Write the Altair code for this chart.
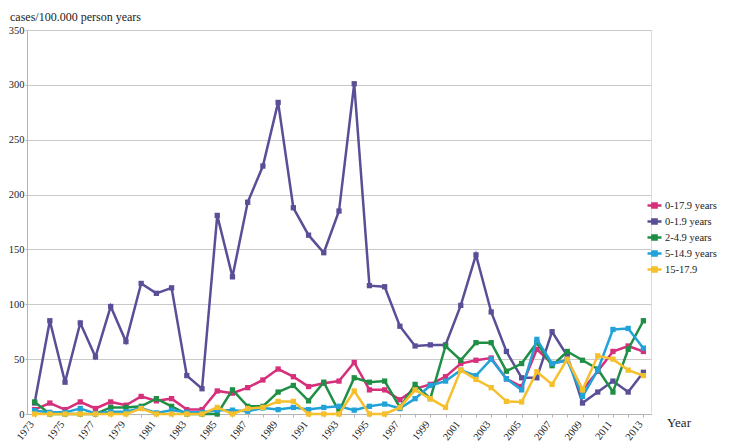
import altair as alt
import pandas as pd

years = list(range(1973, 2014))
series_names = ["0-17.9 years", "0-1.9 years", "2-4.9 years", "5-14.9 years", "15-17.9"]
series_colors = ["#d62f7c", "#5a4e96", "#1f8f45", "#21a3d9", "#f5c02c"]

v_0_17 = [4, 10, 4, 11, 5, 11, 8, 16, 12, 14, 4, 4, 21, 19, 24, 31, 41, 34, 25, 28, 30, 47,
          22, 22, 13, 23, 27, 34, 46, 49, 51, 32, 25, 59, 46, 49, 22, 39, 57, 62, 57]
v_0_1 = [10, 85, 29, 83, 52, 98, 66, 119, 110, 115, 35, 23, 181, 125, 193, 226, 284, 188, 163, 147, 185, 301,
         117, 116, 80, 62, 63, 63, 99, 145, 93, 57, 33, 33, 75, 53, 10, 20, 30, 20, 38]
v_2_4 = [11, 0, 0, 0, 0, 6, 6, 7, 14, 7, 0, 0, 0, 22, 7, 7, 20, 26, 12, 29, 2, 33,
         29, 30, 6, 27, 14, 62, 49, 65, 65, 39, 46, 65, 44, 57, 49, 41, 20, 59, 85]
v_5_14 = [3, 1.5, 1.5, 5, 0.5, 2, 2, 5.5, 1, 3.5, 1.5, 1.5, 3.5, 3.5, 2.5, 5.5, 4, 6, 4, 6, 7, 3.5,
          7, 9, 5, 14, 26, 30, 40, 35, 50, 32, 22, 68, 46, 49, 16, 40, 77, 78, 60]
v_15_17 = [0, 0, 0, 0, 0, 0, 0, 5, 0, 0, 0, 0, 6, 0, 5, 6, 11.5, 11.5, 0, 0, 0, 21,
           0, 0, 6, 22, 14, 6, 40, 31.5, 24, 11.5, 11, 38.5, 27, 50, 22, 53, 50, 40, 35]

y_ticks = [0, 50, 100, 150, 200, 250, 300, 350]
y_title = "cases/100.000 person years"
x_title = "Year"

all_values = [v_0_17, v_0_1, v_2_4, v_5_14, v_15_17]
rows = []
for name, vals in zip(series_names, all_values):
    for yr, v in zip(years, vals):
        rows.append({"year": yr, "value": v, "series": name})
df = pd.DataFrame(rows)

FONT = "Liberation Serif, Times New Roman, DejaVu Serif, serif"

x_enc = alt.X(
    "year:O",
    scale=alt.Scale(type="point", padding=0.5, domain=years),
    axis=alt.Axis(
        values=years,
        labelExpr="(datum.value - 1973) % 2 == 0 ? datum.label : ''",
        labelAngle=-52, labelAlign="right", labelBaseline="middle",
        labelOffset=-3, labelPadding=5,
        title=None, grid=False,
        domainColor="#b5b5b5", tickColor="#b5b5b5", tickSize=3,
        labelFont=FONT, labelFontSize=10.5, labelColor="#222",
    ),
)
y_enc = alt.Y(
    "value:Q",
    scale=alt.Scale(domain=[0, 350], nice=False),
    axis=alt.Axis(
        values=y_ticks, title=None, grid=True, gridColor="#c9c9c9",
        domainColor="#b5b5b5", tickColor="#b5b5b5", tickSize=2,
        labelFont=FONT, labelFontSize=10.5, labelColor="#222", labelPadding=1,
    ),
)
color_enc = alt.Color(
    "series:N",
    scale=alt.Scale(domain=series_names, range=series_colors),
    legend=alt.Legend(
        title=None, orient="none", legendX=619, legendY=167, padding=0,
        symbolType="M-1,0L1,0M-0.3,-0.3L0.3,-0.3L0.3,0.3L-0.3,0.3Z",
        symbolSize=196, symbolStrokeWidth=2.5,
        labelFont=FONT, labelFontSize=10.5, labelColor="#222",
        rowPadding=-1, labelOffset=2, labelLimit=200,
    ),
)

base = alt.Chart(df)
layers = []
for name in series_names:
    sub = base.transform_filter(alt.datum.series == name)
    layers.append(sub.mark_line(strokeWidth=2.5).encode(x=x_enc, y=y_enc, color=color_enc))
    layers.append(sub.mark_point(shape="square", filled=True, size=28, opacity=1).encode(
        x=x_enc, y=y_enc, color=color_enc))

title_df = pd.DataFrame({"t": [y_title]})
title_layer = alt.Chart(title_df).mark_text(
    align="left", baseline="alphabetic", font=FONT, fontSize=12, color="#222"
).encode(text="t:N", x=alt.value(-17), y=alt.value(-9))

year_df = pd.DataFrame({"t": [x_title]})
year_layer = alt.Chart(year_df).mark_text(
    align="left", baseline="alphabetic", font=FONT, fontSize=13, color="#222"
).encode(text="t:N", x=alt.value(640), y=alt.value(397))

chart = alt.layer(*layers, title_layer, year_layer).properties(
    width=624, height=384,
    autosize=alt.AutoSizeParams(type="none"),
    padding={"left": 19, "top": 22, "right": 74, "bottom": 40},
).configure_view(stroke=None).configure(font=FONT)

chart.save("out.html", embed_options={"renderer": "svg", "actions": False})
